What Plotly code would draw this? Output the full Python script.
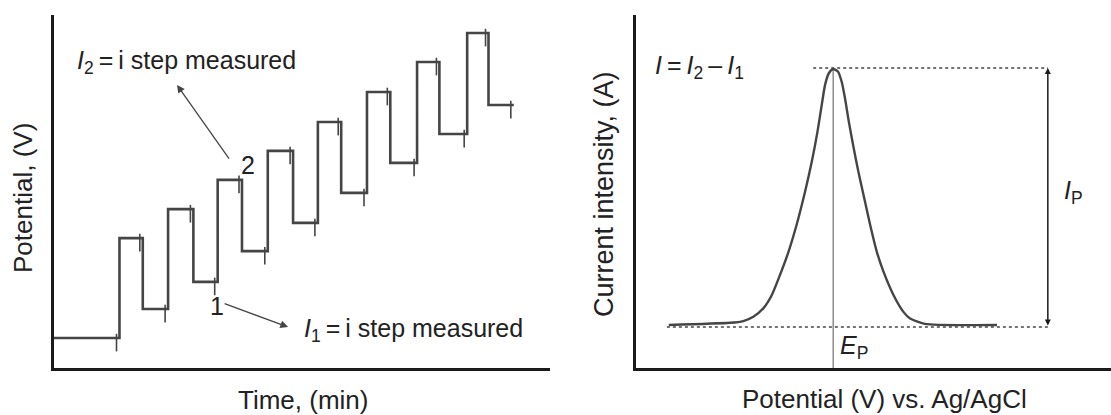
import plotly.graph_objects as go

W, H = 1111, 415

# ---------------- Left panel data (staircase potential waveform) ----------------
rise_t = [1.32, 2.30, 3.30, 4.31, 5.32, 6.31, 7.32, 8.33]
fall_t = [1.79, 2.81, 3.79, 4.82, 5.79, 6.78, 7.77, 8.76]
start_t = 0.0
end_t = 9.27
base_v = 0.85
high_v = [3.68, 4.50, 5.33, 6.15, 6.97, 7.82, 8.67, 9.49]
low_v = [1.67, 2.44, 3.31, 4.11, 4.96, 5.81, 6.63, 7.45]

# ---------------- Right panel data (differential pulse peak) ----------------
peak_x = [0.69, 1.98, 2.26, 2.47, 2.68, 2.86, 3.03, 3.21, 3.38, 3.56, 3.70, 3.82, 3.91,
          3.98, 4.06, 4.15, 4.25, 4.33, 4.40, 4.48, 4.57, 4.68, 4.79, 4.93, 5.07,
          5.21, 5.42, 5.63, 5.77, 6.08, 7.60]
peak_y = [1.22, 1.28, 1.33, 1.45, 1.69, 2.07, 2.63, 3.29, 4.05, 5.00, 5.84, 6.69, 7.45,
          8.02, 8.35, 8.47, 8.40, 8.11, 7.64, 6.98, 6.32, 5.57, 4.90, 4.05, 3.29,
          2.73, 2.07, 1.59, 1.40, 1.25, 1.22]
E_p = 4.15
I_top = 8.50
I_base = 1.16
dotted_base_x = [0.65, 8.67]
dotted_top_x = [3.73, 8.67]
ip_x = 8.67

LINE = "#454545"
TXT = "#222222"
FONT = "Liberation Sans, Arial, sans-serif"

# build staircase
sx = [start_t]
sy = [base_v]
for r, f, h, l in zip(rise_t, fall_t, high_v, low_v):
    sx += [r, f]
    sy += [h, l]
sx.append(end_t)
sy.append(low_v[-1])

# measurement ticks at the end of each horizontal segment
d = 0.06
tick_pts = []
prev = base_v
for r, f, h, l in zip(rise_t, fall_t, high_v, low_v):
    tick_pts.append((r - d, prev))
    tick_pts.append((f - d, h))
    prev = l
tick_pts.append((end_t - d, prev))
tx, ty = [], []
for x, y in tick_pts:
    tx += [x, x, None]
    ty += [y + 0.12, y - 0.38, None]

fig = go.Figure()
fig.add_trace(go.Scatter(x=sx, y=sy, mode="lines", line=dict(color=LINE, width=2.6, shape="hv"),
                         xaxis="x", yaxis="y", showlegend=False, hoverinfo="skip"))
fig.add_trace(go.Scatter(x=tx, y=ty, mode="lines", line=dict(color=LINE, width=1.6),
                         xaxis="x", yaxis="y", showlegend=False, hoverinfo="skip"))

# right panel
fig.add_trace(go.Scatter(x=dotted_base_x, y=[I_base, I_base], mode="lines",
                         line=dict(color=LINE, width=1.6, dash="dot"),
                         xaxis="x2", yaxis="y2", showlegend=False, hoverinfo="skip"))
fig.add_trace(go.Scatter(x=dotted_top_x, y=[I_top, I_top], mode="lines",
                         line=dict(color=LINE, width=1.6, dash="dot"),
                         xaxis="x2", yaxis="y2", showlegend=False, hoverinfo="skip"))
fig.add_trace(go.Scatter(x=[E_p, E_p], y=[0, I_top], mode="lines",
                         line=dict(color="#555555", width=1),
                         xaxis="x2", yaxis="y2", showlegend=False, hoverinfo="skip"))
fig.add_trace(go.Scatter(x=peak_x, y=peak_y, mode="lines",
                         line=dict(color=LINE, width=2.4, shape="spline", smoothing=0.6),
                         xaxis="x2", yaxis="y2", showlegend=False, hoverinfo="skip"))

ax_common = dict(showline=True, linewidth=3, linecolor="#1a1a1a", showgrid=False,
                 zeroline=False, showticklabels=False, ticks="", range=[0, 10], fixedrange=True)

yd = [(H - 368) / H, (H - 15) / H]
fig.update_layout(
    width=W, height=H,
    margin=dict(l=0, r=0, t=0, b=0),
    paper_bgcolor="white", plot_bgcolor="white",
    xaxis=dict(domain=[54 / W, 550 / W], anchor="y", **ax_common),
    yaxis=dict(domain=yd, anchor="x", **ax_common),
    xaxis2=dict(domain=[636 / W, 1.0], anchor="y2", **ax_common),
    yaxis2=dict(domain=yd, anchor="x2", **ax_common),
    font=dict(family=FONT, color=TXT),
)

def px(x):
    return x / W

def py(y):
    return 1 - y / H

ann = []
FS = 25
TS = 26
S = "\u2009"
# axis titles
ann.append(dict(text="Potential, (V)", x=px(23), y=py(198), xref="paper", yref="paper",
                xanchor="center", yanchor="middle",
                textangle=-90, showarrow=False, font=dict(size=TS)))
ann.append(dict(text="Time, (min)", x=px(303), y=py(400), xref="paper", yref="paper",
                xanchor="center", yanchor="middle", showarrow=False, font=dict(size=TS)))
ann.append(dict(text="Current intensity, (A)", x=px(604), y=py(194), xref="paper", yref="paper",
                xanchor="center", yanchor="middle",
                textangle=-90, showarrow=False, font=dict(size=TS + 1)))
ann.append(dict(text="Potential (V) vs. Ag/AgCl", x=px(884), y=py(399), xref="paper", yref="paper",
                xanchor="center", yanchor="middle", showarrow=False, font=dict(size=TS)))

# left annotations
ann.append(dict(text="<i>I</i><sub>2</sub>" + S + "=" + S + "i step measured", x=0.42, y=8.67,
                xref="x", yref="y", xanchor="left", yanchor="middle", showarrow=False, font=dict(size=FS)))
ann.append(dict(text="<i>I</i><sub>1</sub>" + S + "=" + S + "i step measured", x=5.0, y=1.08,
                xref="x", yref="y", xanchor="left", yanchor="middle", showarrow=False, font=dict(size=FS)))
ann.append(dict(text="2", x=3.91, y=5.75, xref="x", yref="y", xanchor="center", yanchor="middle",
                showarrow=False, font=dict(size=FS)))
ann.append(dict(text="1", x=3.29, y=1.76, xref="x", yref="y", xanchor="center", yanchor="middle",
                showarrow=False, font=dict(size=FS)))
ann.append(dict(text="", x=2.48, y=8.02, ax=3.55, ay=5.89, xref="x", yref="y", axref="x", ayref="y",
                showarrow=True, arrowhead=2, arrowsize=1.2, arrowwidth=1.3, arrowcolor=LINE))
ann.append(dict(text="", x=4.72, y=1.16, ax=3.41, ay=1.84, xref="x", yref="y", axref="x", ayref="y",
                showarrow=True, arrowhead=2, arrowsize=1.2, arrowwidth=1.3, arrowcolor=LINE))

# right annotations
ann.append(dict(text="<i>I</i>" + S + "=" + S + "<i>I</i><sub>2</sub>" + S + "–" + S + "<i>I</i><sub>1</sub>",
                x=0.36, y=8.53, xref="x2", yref="y2", xanchor="left", yanchor="middle",
                showarrow=False, font=dict(size=FS)))
ann.append(dict(text="<i>I</i><sub>P</sub>", x=8.97, y=4.99, xref="x2", yref="y2",
                xanchor="left", yanchor="middle", showarrow=False, font=dict(size=FS)))
ann.append(dict(text="<i>E</i><sub>P</sub>", x=4.25, y=0.59, xref="x2", yref="y2",
                xanchor="left", yanchor="middle", showarrow=False, font=dict(size=FS)))
ann.append(dict(text="", x=ip_x, y=I_top, ax=ip_x, ay=I_base, xref="x2", yref="y2", axref="x2", ayref="y2",
                showarrow=True, arrowhead=2, startarrowhead=2, arrowside="end+start",
                arrowsize=0.8, startarrowsize=0.8, arrowwidth=1.5, arrowcolor="#1a1a1a"))

fig.update_layout(annotations=ann)
fig.write_html("out.html")
